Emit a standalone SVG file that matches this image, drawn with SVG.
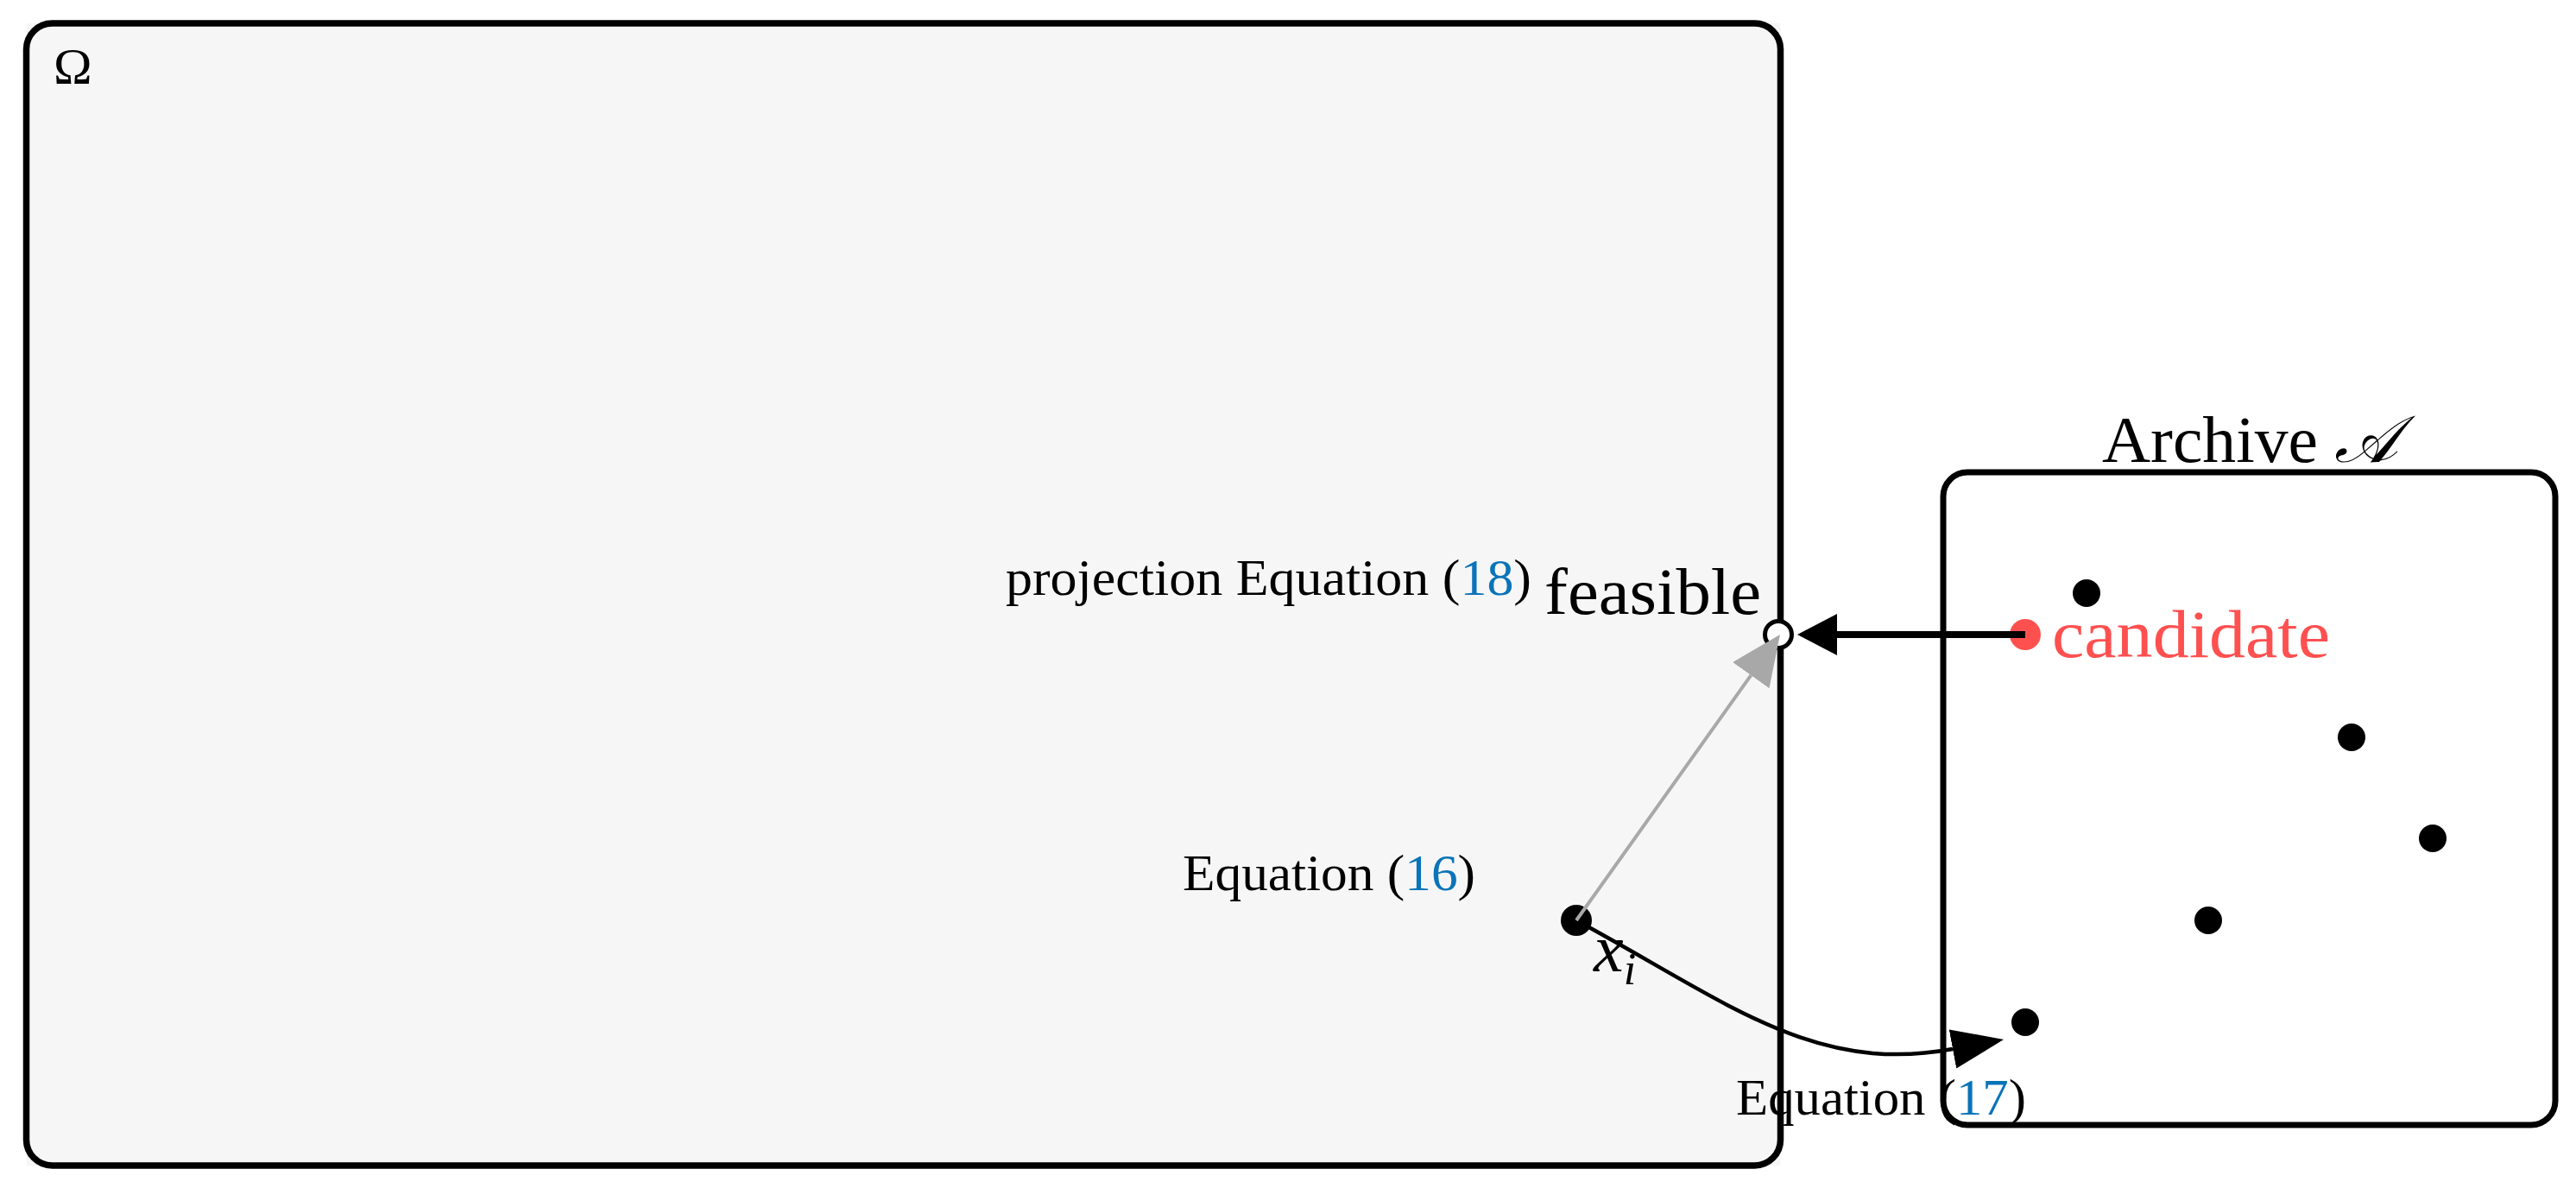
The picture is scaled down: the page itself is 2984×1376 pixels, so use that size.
<svg xmlns="http://www.w3.org/2000/svg" width="2984" height="1376" viewBox="0 0 2984 1376">
<style>
text{font-family:"Liberation Serif","DejaVu Serif",serif;fill:#000}
.sm{font-size:60px}
.lg{font-size:76px}
.blue{fill:#0a74b8}
.red{fill:#ff5050}
.box{fill:none;stroke:#000;stroke-width:7.5}
.dot{fill:#000}
</style>
<defs>
<marker id="ahBlack" markerUnits="userSpaceOnUse" viewBox="0 0 46 48" markerWidth="46" markerHeight="48" refX="0" refY="24" orient="auto"><path d="M0,0 L46,24 L0,48 z" fill="#000"/></marker>
<marker id="ahCurve" markerUnits="userSpaceOnUse" viewBox="0 0 60 46" markerWidth="60" markerHeight="46" refX="0" refY="23" orient="auto"><path d="M0,0 L60,23 L0,46 z" fill="#000"/></marker>
<marker id="ahGray" markerUnits="userSpaceOnUse" viewBox="0 0 58 52" markerWidth="58" markerHeight="52" refX="0" refY="26" orient="auto"><path d="M0,0 L58,26 L0,52 z" fill="#a8a8a8"/></marker>
</defs>
<rect width="2984" height="1376" fill="#fff"/>
<g id="omega">
<rect x="30.5" y="27" width="2032" height="1323" fill="#f6f6f6"/>
<rect class="box" x="30.5" y="27" width="2032" height="1323" rx="30" ry="30"/>
<text class="sm" x="62" y="97">Ω</text>
</g>
<g id="archive">
<rect x="2251" y="547" width="709" height="756" rx="28" ry="28" fill="#fff" stroke="#000" stroke-width="7"/>
<text class="lg" x="2435" y="535" textLength="343" lengthAdjust="spacingAndGlyphs">Archive <tspan font-style="italic">𝒜</tspan></text>
</g>
<g id="archive-points">
<circle class="dot" cx="2417" cy="687" r="16"/>
<circle class="dot" cx="2724" cy="854" r="16"/>
<circle class="dot" cx="2818" cy="971" r="16"/>
<circle class="dot" cx="2558" cy="1066" r="16"/>
<circle class="dot" cx="2346" cy="1184" r="16"/>
</g>
<g id="candidate">
<circle cx="2346" cy="735" r="18" fill="#ff5050"/>
<text class="red" x="2377" y="761" font-size="78" textLength="322" lengthAdjust="spacingAndGlyphs">candidate</text>
</g>
<g id="feasible">
<circle cx="2060" cy="735" r="15.5" fill="#fff" stroke="#000" stroke-width="5"/>
<text class="lg" x="1789" y="711" textLength="251" lengthAdjust="spacingAndGlyphs">feasible</text>
</g>
<g id="xi">
<circle class="dot" cx="1826" cy="1066" r="18"/>
<text x="1846" y="1125" font-size="78" font-style="italic">x<tspan font-size="52" dy="15">i</tspan></text>
</g>
<g id="connectors">
<path d="M2346,735 L2128,735" fill="none" stroke="#000" stroke-width="8" marker-end="url(#ahBlack)"/>
<path d="M1826,1066 C2000,1160 2100,1245 2262,1215" fill="none" stroke="#000" stroke-width="4.5" marker-end="url(#ahCurve)"/>
<path d="M1826,1066 L2028.3,782.2" fill="none" stroke="#a8a8a8" stroke-width="4" marker-end="url(#ahGray)"/>
</g>
<g id="labels">
<text class="sm" x="1165" y="689" textLength="609" lengthAdjust="spacingAndGlyphs">projection Equation (<tspan class="blue">18</tspan>)</text>
<text class="sm" x="1370" y="1031" textLength="339" lengthAdjust="spacingAndGlyphs">Equation (<tspan class="blue">16</tspan>)</text>
<text class="sm" x="2011" y="1291" textLength="336" lengthAdjust="spacingAndGlyphs">Equation (<tspan class="blue">17</tspan>)</text>
</g>
</svg>
